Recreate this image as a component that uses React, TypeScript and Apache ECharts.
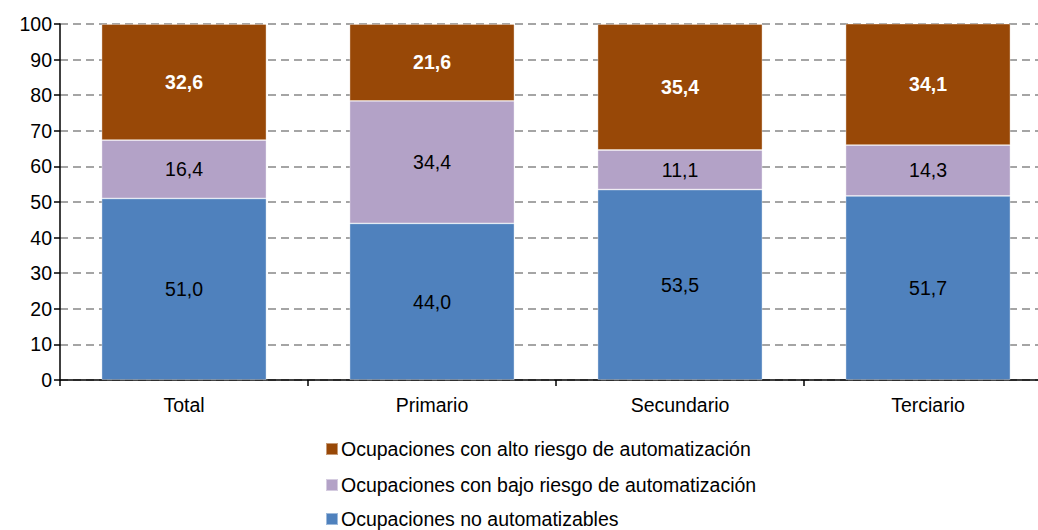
import React, { useEffect, useRef } from "react";
import * as echarts from "echarts";

const categories = ["Total", "Primario", "Secundario", "Terciario"];
const noAutomatizables = [51.0, 44.0, 53.5, 51.7];
const bajoRiesgo = [16.4, 34.4, 11.1, 14.3];
const altoRiesgo = [32.6, 21.6, 35.4, 34.1];
const yTicks = { min: 0, max: 100, interval: 10 };

const nameAlto = "Ocupaciones con alto riesgo de automatización";
const nameBajo = "Ocupaciones con bajo riesgo de automatización";
const nameNo = "Ocupaciones no automatizables";
const legendOrder = [nameAlto, nameBajo, nameNo];

const fmt = (p: any) => Number(p.value).toFixed(1).replace(".", ",");

export default function App() {
  const ref = useRef<HTMLDivElement>(null);
  useEffect(() => {
    if (!ref.current) return;
    const chart = echarts.init(ref.current, null, { renderer: "svg" });
    const font = "Liberation Sans, Arial, sans-serif";
    const mk = (name: string, data: number[], color: string, bold: boolean) => ({
      name,
      type: "bar",
      stack: "s",
      data,
      barWidth: "66.5%",
      itemStyle: { color, borderColor: "rgba(255,255,255,0.45)", borderWidth: 0.8 },
      label: {
        show: true,
        position: "inside",
        formatter: fmt,
        color: bold ? "#fff" : "#000",
        fontWeight: bold ? "bold" : "normal",
        fontSize: 19.5,
        fontFamily: font,
      },
    });
    const legendTops = [439, 475, 509];
    chart.setOption({
      animation: false,
      grid: { left: 60, top: 24, width: 992, height: 356 },
      xAxis: {
        type: "category",
        data: categories,
        axisLine: { lineStyle: { color: "#000", width: 1.5 } },
        axisTick: { show: true, length: 6, alignWithLabel: false, lineStyle: { color: "#000", width: 1.5 } },
        axisLabel: { color: "#000", fontSize: 19.5, fontFamily: font, margin: 15 },
      },
      yAxis: {
        type: "value",
        min: yTicks.min,
        max: yTicks.max,
        interval: yTicks.interval,
        axisLine: { show: true, lineStyle: { color: "#000", width: 1.5 } },
        axisTick: { show: true, length: 6, lineStyle: { color: "#000", width: 1.5 } },
        axisLabel: { color: "#000", fontSize: 19.5, fontFamily: font, margin: 8 },
        splitLine: { show: true, lineStyle: { color: "#888", type: [8, 5], width: 1.5 } },
      },
      legend: legendOrder.map((n, i) => ({
        orient: "vertical",
        left: 325,
        top: legendTops[i],
        padding: 0,
        itemWidth: 12,
        itemHeight: 12,
        icon: "rect",
        data: [n],
        textStyle: { color: "#000", fontSize: 19.5, fontFamily: font, padding: [0, 0, 0, -2] },
      })),
      series: [
        mk(nameNo, noAutomatizables, "#4F81BD", false),
        mk(nameBajo, bajoRiesgo, "#B3A2C7", false),
        mk(nameAlto, altoRiesgo, "#984807", true),
      ],
    });
    return () => chart.dispose();
  }, []);
  return (
    <div style={{ width: 1038, height: 530, position: "absolute", left: 0, top: 0, overflow: "hidden" }}>
      <div ref={ref} style={{ width: 1060, height: 530 }} />
    </div>
  );
}
